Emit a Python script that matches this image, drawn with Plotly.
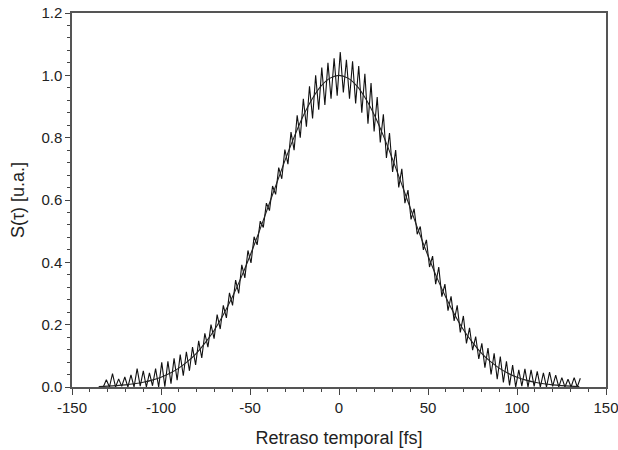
import plotly.graph_objects as go

# Measured autocorrelation trace (delay in fs, signal in a.u.)
trace_x = [
    -132.43, -130.70, -128.97, -127.24, -125.52, -123.79, -122.06, -120.33, -118.60, -116.87,
    -115.14, -113.41, -111.68, -109.95, -108.22, -106.50, -104.77, -103.04, -101.31, -99.58,
    -97.85, -96.12, -94.39, -92.66, -90.93, -89.20, -87.48, -85.75, -84.02, -82.29,
    -80.56, -78.83, -77.10, -75.37, -73.64, -71.91, -70.18, -68.46, -66.73, -65.00,
    -63.27, -61.54, -59.81, -58.08, -56.35, -54.62, -52.89, -51.16, -49.44, -47.71,
    -45.98, -44.25, -42.52, -40.79, -39.06, -37.33, -35.60, -33.87, -32.14, -30.42,
    -28.69, -26.96, -25.23, -23.50, -21.77, -20.04, -18.31, -16.58, -14.85, -13.12,
    -11.40, -9.67, -7.94, -6.21, -4.48, -2.75, -1.02, 0.71, 2.44, 4.17,
    5.90, 7.62, 9.35, 11.08, 12.81, 14.54, 16.27, 18.00, 19.73, 21.46,
    23.19, 24.92, 26.64, 28.37, 30.10, 31.83, 33.56, 35.29, 37.02, 38.75,
    40.48, 42.21, 43.94, 45.66, 47.39, 49.12, 50.85, 52.58, 54.31, 56.04,
    57.77, 59.50, 61.23, 62.96, 64.68, 66.41, 68.14, 69.87, 71.60, 73.33,
    75.06, 76.79, 78.52, 80.25, 81.98, 83.70, 85.43, 87.16, 88.89, 90.62,
    92.35, 94.08, 95.81, 97.54, 99.27, 101.00, 102.72, 104.45, 106.18, 107.91,
    109.64, 111.37, 113.10, 114.83, 116.56, 118.29, 120.02, 121.74, 123.47, 125.20,
    126.93, 128.66, 130.39, 132.12, 133.85, 135.58,
]
trace_y = [
    0.000, 0.023, 0.000, 0.043, 0.000, 0.026, 0.002, 0.032, 0.000, 0.039,
    0.000, 0.059, 0.003, 0.052, 0.000, 0.045, 0.004, 0.059, 0.000, 0.079,
    0.001, 0.082, 0.011, 0.092, 0.022, 0.104, 0.036, 0.113, 0.052, 0.128,
    0.071, 0.148, 0.093, 0.172, 0.128, 0.200, 0.155, 0.232, 0.186, 0.262,
    0.222, 0.302, 0.262, 0.343, 0.300, 0.392, 0.350, 0.438, 0.398, 0.482,
    0.456, 0.532, 0.512, 0.590, 0.566, 0.645, 0.618, 0.704, 0.668, 0.762,
    0.715, 0.818, 0.760, 0.872, 0.800, 0.925, 0.835, 0.965, 0.862, 1.000,
    0.890, 1.025, 0.905, 1.040, 0.925, 1.055, 0.935, 1.075, 0.945, 1.050,
    0.925, 1.045, 0.910, 1.030, 0.880, 1.005, 0.845, 0.975, 0.820, 0.930,
    0.785, 0.875, 0.735, 0.815, 0.690, 0.760, 0.640, 0.700, 0.590, 0.632,
    0.538, 0.572, 0.490, 0.515, 0.440, 0.472, 0.385, 0.420, 0.330, 0.385,
    0.290, 0.330, 0.245, 0.291, 0.212, 0.262, 0.175, 0.228, 0.140, 0.190,
    0.118, 0.162, 0.090, 0.140, 0.062, 0.125, 0.040, 0.108, 0.025, 0.098,
    0.015, 0.082, 0.005, 0.070, 0.000, 0.055, 0.003, 0.058, 0.000, 0.055,
    0.002, 0.050, 0.000, 0.045, 0.000, 0.048, 0.002, 0.038, 0.000, 0.030,
    0.000, 0.025, 0.000, 0.030, 0.000, 0.028,
]

# Fitted envelope
fit_x = [-135, -130, -125, -120, -115, -110, -105, -100, -95, -90, -85, -80, -75, -70,
         -65, -60, -55, -50, -45, -40, -35, -30, -25, -20, -15, -10, -5, 0,
         5, 10, 15, 20, 25, 30, 35, 40, 45, 50, 55, 60, 65, 70,
         75, 80, 85, 90, 95, 100, 105, 110, 115, 120, 125, 130, 135]
fit_y = [0.0018, 0.0029, 0.0045, 0.0068, 0.0103, 0.0151, 0.022, 0.0313, 0.0439, 0.0605,
         0.082, 0.109, 0.143, 0.183, 0.232, 0.288, 0.351, 0.421, 0.496, 0.575,
         0.654, 0.732, 0.805, 0.871, 0.925, 0.966, 0.991, 1.0,
         0.991, 0.966, 0.925, 0.871, 0.805, 0.732, 0.654, 0.575, 0.496, 0.421,
         0.351, 0.288, 0.232, 0.183, 0.143, 0.109, 0.082, 0.0605, 0.0439, 0.0313,
         0.022, 0.0151, 0.0103, 0.0068, 0.0045, 0.0029, 0.0018]

x_ticks = [-150, -100, -50, 0, 50, 100, 150]
y_ticks = [0.0, 0.2, 0.4, 0.6, 0.8, 1.0, 1.2]

FONT = "Liberation Sans, Arial, sans-serif"

fig = go.Figure()
fig.add_trace(go.Scatter(x=trace_x, y=trace_y, mode="lines",
                         line=dict(color="#111111", width=1.1), showlegend=False))
fig.add_trace(go.Scatter(x=fit_x, y=fit_y, mode="lines",
                         line=dict(color="#222222", width=1.1, shape="spline"),
                         showlegend=False))

axis_common = dict(
    showline=True, linecolor="#555555", linewidth=1.5, mirror=True,
    ticks="outside", tickwidth=1, tickcolor="#444444",
    showgrid=False, zeroline=False, automargin=False,
    ticklabeloverflow="allow",
    tickfont=dict(family=FONT, size=15, color="#222222"),
)

fig.update_layout(
    width=618, height=450,
    margin=dict(l=72, r=12, t=13, b=63),
    paper_bgcolor="white", plot_bgcolor="white",
    xaxis=dict(
        range=[-150, 150], tickvals=x_ticks, ticktext=[str(v) for v in x_ticks],
        ticklen=6,
        minor=dict(dtick=10, ticks="outside", ticklen=3, tickcolor="#444444"),
        title=dict(text="Retraso temporal [fs]", standoff=17,
                   font=dict(family=FONT, size=18, color="#222222")),
        **axis_common,
    ),
    yaxis=dict(
        range=[0, 1.2], tickvals=y_ticks, ticktext=[f"{v:.1f}" for v in y_ticks],
        ticklen=5,
        minor=dict(dtick=0.04, ticks="outside", ticklen=3, tickcolor="#444444"),
        title=dict(text="S(τ) [u.a.]", standoff=12,
                   font=dict(family=FONT, size=18, color="#222222")),
        **axis_common,
    ),
)

fig.write_html(
    "out.html",
    config={"displayModeBar": False},
    post_script="document.body.style.margin='0px';document.body.style.overflow='hidden';",
)
